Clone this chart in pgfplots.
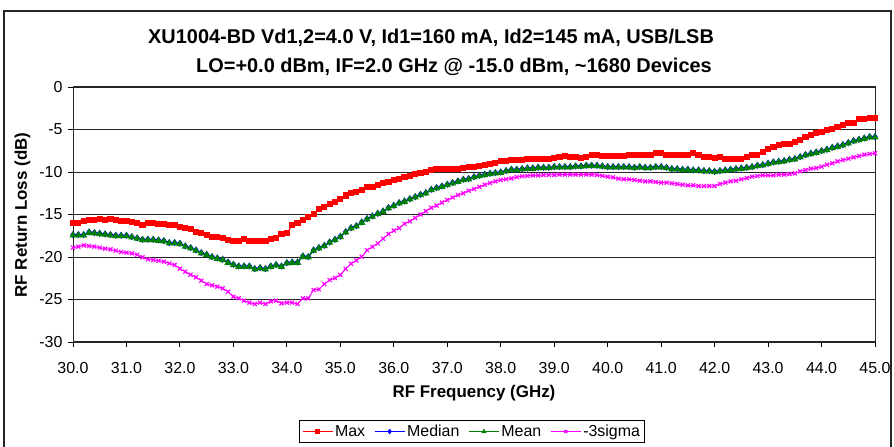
\documentclass[border=0pt]{standalone}
\usepackage{fontspec}
\setmainfont{Liberation Sans}
\usepackage{pgfplots}
\usepackage{pgfplotstable}
\pgfplotsset{compat=1.18}
\definecolor{cMax}{RGB}{255,0,0}
\definecolor{cMed}{RGB}{0,0,255}
\definecolor{cMean}{RGB}{0,128,0}
\definecolor{cSig}{RGB}{255,0,255}
\pgfplotstableread{
f max med mean sig
30.0 -15.96 -17.37 -17.45 -18.90
30.1 -15.96 -17.37 -17.45 -18.78
30.2 -15.80 -17.37 -17.45 -18.63
30.3 -15.69 -17.06 -17.14 -18.71
30.4 -15.69 -17.14 -17.22 -18.78
30.5 -15.53 -17.21 -17.29 -18.90
30.6 -15.65 -17.29 -17.37 -19.02
30.7 -15.49 -17.37 -17.45 -19.10
30.8 -15.65 -17.45 -17.53 -19.25
30.9 -15.80 -17.45 -17.53 -19.41
31.0 -15.80 -17.45 -17.53 -19.49
31.1 -15.92 -17.61 -17.69 -19.57
31.2 -15.96 -17.76 -17.84 -19.73
31.3 -16.27 -17.92 -18.00 -20.04
31.4 -16.04 -17.92 -18.00 -20.27
31.5 -15.96 -17.92 -18.00 -20.35
31.6 -16.12 -18.00 -18.08 -20.43
31.7 -16.12 -18.08 -18.16 -20.55
31.8 -16.27 -18.31 -18.39 -20.75
31.9 -16.27 -18.31 -18.39 -20.94
32.0 -16.43 -18.39 -18.47 -21.37
32.1 -16.59 -18.70 -18.78 -21.73
32.2 -16.75 -18.90 -18.98 -22.08
32.3 -17.02 -19.17 -19.25 -22.39
32.4 -17.22 -19.49 -19.57 -22.78
32.5 -17.41 -19.68 -19.76 -23.18
32.6 -17.61 -19.96 -20.04 -23.33
32.7 -17.61 -20.12 -20.20 -23.49
32.8 -17.76 -20.27 -20.35 -23.69
32.9 -18.00 -20.59 -20.67 -24.08
33.0 -18.08 -20.86 -20.94 -24.67
33.1 -18.08 -21.06 -21.14 -24.86
33.2 -17.92 -21.06 -21.14 -25.14
33.3 -18.08 -21.06 -21.14 -25.37
33.4 -18.08 -21.37 -21.45 -25.53
33.5 -18.08 -21.25 -21.33 -25.37
33.6 -18.08 -21.37 -21.45 -25.53
33.7 -17.92 -21.06 -21.14 -25.22
33.8 -17.76 -20.90 -20.98 -25.14
33.9 -17.29 -21.06 -21.14 -25.45
34.0 -17.22 -20.67 -20.75 -25.37
34.1 -16.27 -20.59 -20.67 -25.37
34.2 -15.96 -20.59 -20.67 -25.53
34.3 -15.65 -19.88 -19.96 -24.86
34.4 -15.33 -19.96 -20.04 -24.86
34.5 -14.98 -19.17 -19.25 -23.88
34.6 -14.31 -18.90 -18.98 -23.80
34.7 -14.16 -18.63 -18.71 -23.18
34.8 -13.76 -18.23 -18.31 -22.71
34.9 -13.49 -17.92 -18.00 -22.47
35.0 -13.22 -17.57 -17.65 -22.10
35.1 -12.76 -17.02 -17.10 -21.40
35.2 -12.51 -16.55 -16.63 -20.80
35.3 -12.35 -16.32 -16.40 -20.40
35.4 -12.12 -15.88 -15.96 -19.96
35.5 -11.80 -15.49 -15.57 -19.20
35.6 -11.73 -15.17 -15.25 -18.80
35.7 -11.53 -14.86 -14.94 -18.40
35.8 -11.33 -14.59 -14.67 -17.85
35.9 -11.14 -14.19 -14.27 -17.30
36.0 -10.94 -13.92 -14.00 -16.90
36.1 -10.78 -13.61 -13.69 -16.60
36.2 -10.63 -13.41 -13.49 -16.10
36.3 -10.47 -13.14 -13.22 -15.80
36.4 -10.27 -12.90 -12.98 -15.40
36.5 -10.16 -12.63 -12.71 -15.00
36.6 -9.96 -12.43 -12.51 -14.60
36.7 -9.76 -12.04 -12.12 -14.20
36.8 -9.69 -11.84 -11.92 -13.95
36.9 -9.69 -11.65 -11.73 -13.60
37.0 -9.69 -11.45 -11.53 -13.30
37.1 -9.69 -11.25 -11.33 -13.00
37.2 -9.61 -11.06 -11.14 -12.70
37.3 -9.53 -10.86 -10.94 -12.50
37.4 -9.45 -10.78 -10.86 -12.20
37.5 -9.37 -10.55 -10.63 -12.00
37.6 -9.29 -10.39 -10.47 -11.75
37.7 -9.22 -10.27 -10.35 -11.50
37.8 -9.06 -10.16 -10.24 -11.30
37.9 -8.90 -10.08 -10.16 -11.10
38.0 -8.75 -10.00 -10.08 -10.95
38.1 -8.67 -9.84 -9.92 -10.85
38.2 -8.59 -9.68 -9.76 -10.75
38.3 -8.59 -9.68 -9.76 -10.60
38.4 -8.59 -9.61 -9.69 -10.50
38.5 -8.43 -9.53 -9.61 -10.45
38.6 -8.43 -9.53 -9.61 -10.40
38.7 -8.43 -9.45 -9.53 -10.40
38.8 -8.43 -9.45 -9.53 -10.35
38.9 -8.43 -9.45 -9.53 -10.35
39.0 -8.35 -9.37 -9.45 -10.35
39.1 -8.20 -9.37 -9.45 -10.30
39.2 -8.12 -9.37 -9.45 -10.30
39.3 -8.27 -9.37 -9.45 -10.30
39.4 -8.20 -9.29 -9.37 -10.30
39.5 -8.35 -9.29 -9.37 -10.30
39.6 -8.20 -9.21 -9.29 -10.30
39.7 -8.04 -9.21 -9.29 -10.30
39.8 -8.04 -9.21 -9.29 -10.35
39.9 -8.12 -9.29 -9.37 -10.45
40.0 -8.12 -9.37 -9.45 -10.55
40.1 -8.12 -9.37 -9.45 -10.63
40.2 -8.12 -9.37 -9.45 -10.78
40.3 -8.12 -9.37 -9.45 -10.86
40.4 -7.96 -9.37 -9.45 -10.86
40.5 -7.96 -9.45 -9.53 -10.94
40.6 -7.96 -9.37 -9.45 -11.02
40.7 -7.96 -9.45 -9.53 -11.10
40.8 -7.96 -9.45 -9.53 -11.10
40.9 -7.80 -9.37 -9.45 -11.18
41.0 -7.80 -9.37 -9.45 -11.25
41.1 -7.96 -9.45 -9.53 -11.25
41.2 -8.04 -9.61 -9.69 -11.33
41.3 -8.04 -9.61 -9.69 -11.41
41.4 -8.04 -9.68 -9.76 -11.49
41.5 -8.04 -9.68 -9.76 -11.57
41.6 -7.80 -9.76 -9.84 -11.57
41.7 -8.04 -9.76 -9.84 -11.65
41.8 -8.20 -9.84 -9.92 -11.65
41.9 -8.20 -9.84 -9.92 -11.65
42.0 -8.35 -9.92 -10.00 -11.65
42.1 -8.20 -9.84 -9.92 -11.41
42.2 -8.43 -9.76 -9.84 -11.25
42.3 -8.43 -9.68 -9.76 -11.10
42.4 -8.43 -9.61 -9.69 -11.02
42.5 -8.43 -9.53 -9.61 -10.86
42.6 -8.20 -9.45 -9.53 -10.71
42.7 -8.04 -9.37 -9.45 -10.55
42.8 -8.04 -9.21 -9.29 -10.47
42.9 -7.65 -9.14 -9.22 -10.39
43.0 -7.25 -8.98 -9.06 -10.39
43.1 -7.02 -8.82 -8.90 -10.39
43.2 -6.86 -8.74 -8.82 -10.31
43.3 -6.71 -8.67 -8.75 -10.31
43.4 -6.71 -8.51 -8.59 -10.24
43.5 -6.47 -8.43 -8.51 -10.16
43.6 -6.24 -8.19 -8.27 -9.92
43.7 -5.92 -7.96 -8.04 -9.76
43.8 -5.61 -7.80 -7.88 -9.61
43.9 -5.45 -7.65 -7.73 -9.53
44.0 -5.29 -7.49 -7.57 -9.37
44.1 -5.06 -7.33 -7.41 -9.14
44.2 -4.90 -7.10 -7.18 -8.98
44.3 -4.67 -6.94 -7.02 -8.75
44.4 -4.43 -6.78 -6.86 -8.59
44.5 -4.27 -6.55 -6.63 -8.43
44.6 -4.20 -6.31 -6.39 -8.27
44.7 -3.80 -6.16 -6.24 -8.12
44.8 -3.80 -6.00 -6.08 -7.96
44.9 -3.65 -5.84 -5.92 -7.88
45.0 -3.65 -5.84 -5.92 -7.80
}\data

\begin{document}
\begin{tikzpicture}
\draw[line width=1.3bp, black!85] (4bp,-10bp) -- (4bp,436bp) -- (891bp,436bp) -- (891bp,-10bp);
\node[anchor=west, inner sep=0pt, font=\bfseries\fontsize{20}{24}\selectfont] at (148bp,409bp) {XU1004-BD Vd1,2=4.0 V, Id1=160 mA, Id2=145 mA, USB/LSB};
\node[anchor=east, inner sep=0pt, font=\bfseries\fontsize{20}{24}\selectfont] at (712bp,380bp) {LO=+0.0 dBm, IF=2.0 GHz @ -15.0 dBm, \textasciitilde 1680 Devices};
\begin{axis}[
  at={(73bp,105bp)}, anchor=south west,
  scale only axis, width=802bp, height=255bp,
  xmin=30, xmax=45, ymin=-30, ymax=0,
  xtick={30,31,...,45},
  xticklabels={30.0,31.0,32.0,33.0,34.0,35.0,36.0,37.0,38.0,39.0,40.0,41.0,42.0,43.0,44.0,45.0},
  ytick={-30,-25,-20,-15,-10,-5,0},
  yticklabels={-30,-25,-20,-15,-10,-5,0},
  ymajorgrids,
  grid style={black!85, line width=0.9bp},
  tick align=outside, tick pos=left,
  major tick length=5bp,
  tick style={black, line width=0.9bp},
  axis line style={black!85, line width=1bp},
  ticklabel style={font=\fontsize{16}{18}\selectfont},
  xticklabel style={yshift=-12bp},
  yticklabel style={xshift=-2bp},
  xlabel={RF Frequency (GHz)}, ylabel={RF Return Loss (dB)},
  label style={font=\bfseries\fontsize{17}{20}\selectfont},
  xlabel style={at={(axis description cs:0.5,-0.2)}, anchor=center},
  ylabel style={at={(axis description cs:-0.063,0.498)}, anchor=center},
  legend columns=4,
  legend style={at={(axis description cs:0.4975,-0.351)}, anchor=center, draw=black, line width=1bp,
    font=\fontsize{16}{18}\selectfont, inner sep=2.5bp,
    /tikz/every even column/.append style={column sep=7bp}},
  legend image code/.code={\draw[mark repeat=2, mark phase=2, #1, mark size=2bp] plot coordinates {(0bp,0bp) (15bp,0bp) (30bp,0bp)};},
]
\addplot[cMax, line width=1bp, mark=square*, mark size=2.6bp] table[x=f, y=max] {\data};
\addlegendentry{Max}
\addplot[cMed, line width=1bp, mark=diamond*, mark size=2.8bp] table[x=f, y=med] {\data};
\addlegendentry{Median}
\addplot[cMean, line width=1bp, mark=triangle*, mark size=3.2bp] table[x=f, y=mean] {\data};
\addlegendentry{Mean}
\addplot[cSig, line width=1bp, mark=x, mark size=2.8bp, mark options={line width=1.2bp}] table[x=f, y=sig] {\data};
\addlegendentry{-3sigma}
\end{axis}
\pgfresetboundingbox
\useasboundingbox (0,0) rectangle (894bp,447bp);
\end{tikzpicture}
\end{document}
